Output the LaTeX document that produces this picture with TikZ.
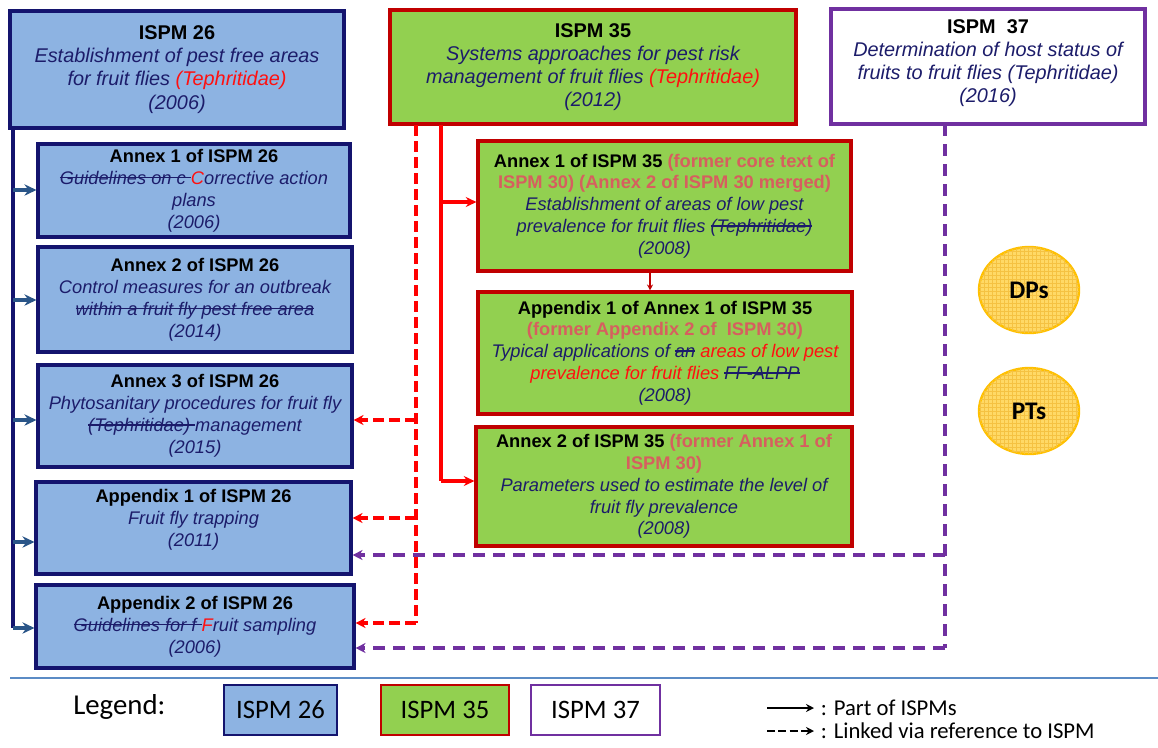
\documentclass[tikz,border=0pt]{standalone}
\usepackage{fontspec}
\setmainfont{Liberation Sans}
\newfontfamily\calfont{Carlito}
\usetikzlibrary{arrows.meta,patterns,shapes.geometric}
\definecolor{bluefill}{HTML}{8DB3E2}
\definecolor{navy}{HTML}{14146E}
\definecolor{txtnavy}{HTML}{1C1C6A}
\definecolor{arrblue}{HTML}{2A5588}
\definecolor{greenfill}{HTML}{92D050}
\definecolor{darkred}{HTML}{C00000}
\definecolor{purp}{HTML}{7030A0}
\definecolor{former}{HTML}{D65F5F}
\definecolor{redtxt}{HTML}{FF1010}
\definecolor{sepblue}{HTML}{5B8BC5}
\definecolor{goldline}{HTML}{FFC000}
\definecolor{goldfill}{HTML}{FFD966}
\definecolor{goldpat}{HTML}{F5C242}
\newsavebox\strkbox
\newcommand{\strk}[1]{\sbox\strkbox{#1}\rlap{\rule[0.33em]{\wd\strkbox}{0.07em}}\usebox\strkbox}
\newcommand{\tit}[1]{{\bfseries\upshape\color{black}#1}}
\newcommand{\frm}[1]{{\bfseries\upshape\color{former}#1}}
\newcommand{\rd}[1]{{\color{redtxt}#1}}
\begin{document}
\begin{tikzpicture}[x=0.75pt,y=-0.75pt,
  sz/.style 2 args={minimum width=#1*0.75pt, minimum height=#2*0.75pt},
  box/.style={rectangle, line width=2.3pt, align=center, inner sep=0pt, text=txtnavy},
  b26/.style={box, draw=navy, fill=bluefill},
  b35/.style={box, draw=darkred, fill=greenfill},
  b37/.style={box, draw=purp, fill=white},
  big/.style={font=\fontsize{14.9}{17.4}\selectfont\itshape},
  small/.style={font=\fontsize{13.7}{16.4}\selectfont\itshape},
  boxtext/.style={align=center, inner sep=0pt, text=txtnavy},
  navyline/.style={draw=navy, line width=3pt},
  navyarr/.style={draw=arrblue, line width=2.6pt, -{Stealth[length=9pt,width=8.5pt]}},
  redline/.style={draw=red, line width=2.5pt},
  redarr/.style={draw=red, line width=2.5pt, -{Stealth[length=8pt,width=7.5pt]}},
  reddash/.style={draw=red, line width=2.5pt, dash pattern=on 8pt off 4pt},
  reddarr/.style={reddash, -{Stealth[length=7.5pt,width=7.5pt]}},
  purdash/.style={draw=purp, line width=2.5pt, dash pattern=on 9pt off 6pt},
  purdarr/.style={purdash, -{Stealth[length=7.5pt,width=7.5pt]}},
  dpnode/.style={ellipse, draw=goldline, line width=1.8pt, fill=goldfill,
     postaction={pattern=grid, pattern color=goldpat},
     minimum width=100*0.75pt, minimum height=86*0.75pt, inner sep=0pt,
     font=\calfont\bfseries\fontsize{19}{19}\selectfont},
  leg/.style={rectangle, line width=2pt, minimum width=113*0.75pt, minimum height=50*0.75pt,
     font=\calfont\fontsize{20}{20}\selectfont, inner sep=0pt},
  legtxt/.style={font=\calfont\fontsize{17}{17}\selectfont, anchor=west, inner sep=0pt}
]
\useasboundingbox (0,0) rectangle (1158,747);
% ---- ISPM 26 family
\node[b26, sz={334}{117}, big] (i26) at (177,69.5)
 {\tit{ISPM 26}\\Establishment of pest free areas\\for fruit flies \rd{(Tephritidae)}\\(2006)};
\node[b26, sz={312}{93}, small] (a1) at (194,190.5)
 {\tit{Annex 1 of ISPM 26}\\\strk{Guidelines on c }\rd{C}orrective action\\plans\\(2006)};
\node[b26, sz={314}{105}, small] (a2) at (195,299.5)
 {\tit{Annex 2 of ISPM 26}\\Control measures for an outbreak\\\strk{within a fruit fly pest free area}\\(2014)};
\node[b26, sz={314}{102}, small] (a3) at (195,416)
 {\tit{Annex 3 of ISPM 26}\\Phytosanitary procedures for fruit fly\\\strk{(Tephritidae) }management\\(2015)};
\node[b26, sz={315}{92}] (p1) at (193.5,528) {};
\node[boxtext, small] (p1t) at (193.5,520)
 {\tit{Appendix 1 of ISPM 26}\\Fruit fly trapping\\(2011)};
\node[b26, sz={318}{83}, small] (p2) at (195,626.5)
 {\tit{Appendix 2 of ISPM 26}\\\strk{Guidelines for f }\rd{F}ruit sampling\\(2006)};
% ---- ISPM 35 family
\node[b35, sz={406}{114}, big] (i35) at (593,67)
 {\tit{ISPM 35}\\Systems approaches for pest risk\\management of fruit flies \rd{(Tephritidae)}\\(2012)};
\node[b35, sz={373}{130}, small] (c1) at (664.5,206)
 {\tit{Annex 1 of ISPM 35 }\frm{(former core text of}\\\frm{ISPM 30) (Annex 2 of ISPM 30 merged)}\\Establishment of areas of low pest\\prevalence for fruit flies \strk{(Tephritidae)}\\(2008)};
\node[b35, sz={374}{122}, small] (c2) at (665,353)
 {\tit{Appendix 1 of Annex 1 of ISPM 35}\\\frm{(former Appendix 2 of\ \ ISPM 30)}\\Typical applications of \strk{an} \rd{areas of low pest}\\\rd{prevalence for fruit flies} \strk{FF-ALPP}\\(2008)};
\node[b35, sz={376}{119}, small] (c3) at (664,486.5)
 {\tit{Annex 2 of ISPM 35 }\frm{(former Annex 1 of}\\\frm{ISPM 30)}\\Parameters used to estimate the level of\\fruit fly prevalence\\(2008)};
% ---- ISPM 37
\node[b37, sz={314}{115}] (i37) at (988,66.5) {};
\node[boxtext, big] (i37t) at (988,63)
 {\tit{ISPM\ \ 37}\\Determination of host status of\\fruits to fruit flies (Tephritidae)\\(2016)};
% ---- DPs / PTs
\node[dpnode] (dp) at (1029,290) {DPs};
\node[dpnode] (pt) at (1029,411) {PTs};
% ---- navy "part of" connectors
\coordinate (t0) at (13,128);
\coordinate (t1) at (13,190);
\coordinate (t2) at (13,300);
\coordinate (t3) at (13,420);
\coordinate (t4) at (13,542);
\coordinate (t5) at (13,628);
\draw[navyline] (t0) -- (t5);
\draw[navyarr] (t1) -- (t1 -| a1.west);
\draw[navyarr] (t2) -- (t2 -| a2.west);
\draw[navyarr] (t3) -- (t3 -| a3.west);
\draw[navyarr] (t4) -- (t4 -| p1.west);
\draw[navyarr] (t5) -- (t5 -| p2.west);
% ---- red solid connectors
\coordinate (r0) at (441,125);
\coordinate (r1) at (441,202);
\coordinate (r2) at (441,481);
\draw[redline] (r0) -- (r2);
\draw[redarr] (r1) -- (r1 -| c1.west);
\draw[redarr] (r2) -- (r2 -| c3.west);
\draw[draw=darkred, line width=1.8pt, -{Stealth[length=4.5pt,width=4.5pt]}] (c1.south -| 650,0) -- (c2.north -| 650,0);
% ---- red dashed connectors
\coordinate (d0) at (416,125);
\coordinate (d1) at (416,420);
\coordinate (d2) at (416,518);
\coordinate (d3) at (416,623);
\draw[reddash] (d0) -- (d3);
\draw[reddarr] (d1) -- (d1 -| a3.east);
\draw[reddarr] (d2) -- (d2 -| p1.east);
\draw[reddarr] (d3) -- (d3 -| p2.east);
% ---- purple dashed connectors
\coordinate (q0) at (945,124);
\coordinate (q1) at (945,555);
\coordinate (q2) at (945,648);
\draw[purdash] (q0) -- (q2);
\draw[purdarr] (q1) -- (q1 -| p1.east);
\draw[purdarr] (q2) -- (q2 -| p2.east);
% ---- separator
\coordinate (sl) at (10,678);
\coordinate (sr) at (1158,678);
\draw[draw=sepblue, line width=1.5pt] (sl) -- (sr);
% ---- legend
\node[font=\calfont\fontsize{21.6}{21.6}\selectfont, anchor=west, inner sep=0pt] (lg) at (73,707) {Legend:};
\node[leg, draw=navy, fill=bluefill] (l26) at (280.5,710) {ISPM 26};
\node[leg, draw=darkred, fill=greenfill, minimum width=128*0.75pt] (l35) at (445,710) {ISPM 35};
\node[leg, draw=purp, fill=white, minimum width=129*0.75pt] (l37) at (595.5,710) {ISPM 37};
\coordinate (la1) at (767,708);
\coordinate (lb1) at (814,708);
\coordinate (la2) at (767,731);
\coordinate (lb2) at (814,731);
\draw[line width=1.8pt, -{Stealth[length=6pt,width=6pt]}] (la1) -- (lb1);
\draw[line width=1.8pt, dash pattern=on 6pt off 2.5pt, -{Stealth[length=6pt,width=6pt]}] (la2) -- (lb2);
\node[legtxt] (lt1) at ([xshift=5pt]lb1) {: Part of ISPMs};
\node[legtxt] (lt2) at ([xshift=5pt]lb2) {: Linked via reference to ISPM};
\end{tikzpicture}
\end{document}
